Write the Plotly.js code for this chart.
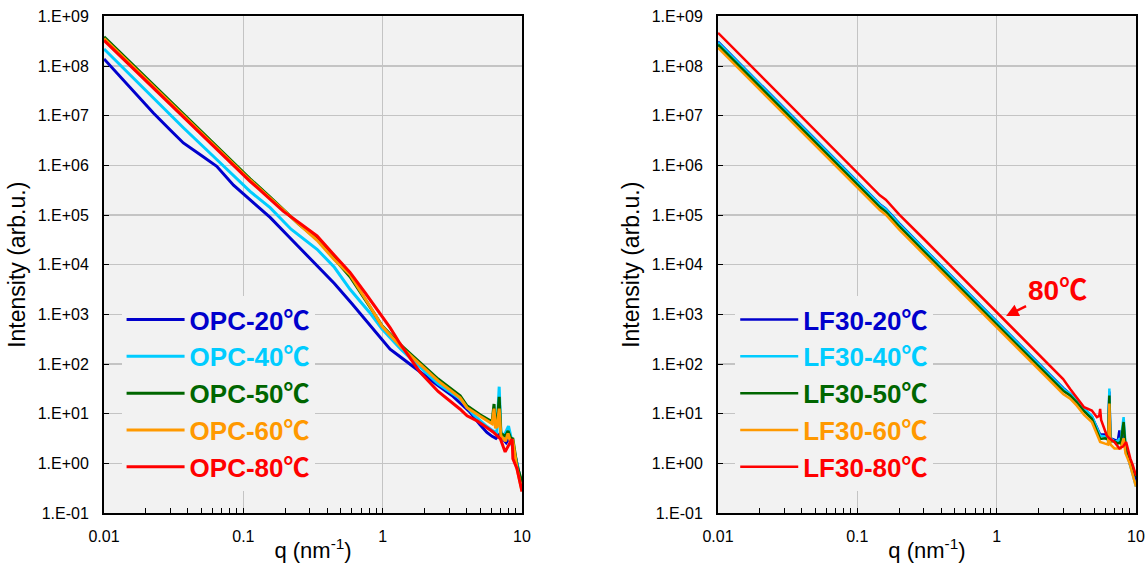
<!DOCTYPE html>
<html>
<head>
<meta charset="utf-8">
<script src="https://cdn.plot.ly/plotly-3.0.1.min.js"></script>
<style>html,body{margin:0;padding:0;background:#fff;}#chart{width:1147px;height:563px;}</style>
</head>
<body>
<div id="chart"></div>
<script>
// ---------- Data (left panel: OPC) ----------
const q_opc20 = [0.01, 0.015, 0.0226, 0.03, 0.0371, 0.05, 0.0644, 0.085, 0.1117, 0.1556, 0.22, 0.338, 0.45, 0.6, 0.8, 0.99, 1.13, 1.35, 1.85, 2.5, 3.2, 4.24, 5.0, 5.6, 6.1, 6.5, 6.86, 7.2, 7.7, 8.2, 8.6, 9.2, 10];
const I_opc20 = [1.4e8, 4.0e7, 1.14e7, 5.1e6, 2.84e6, 1.58e6, 9.6e5, 4.0e5, 2.07e5, 9.0e4, 3.3e4, 9.3e3, 4.2e3, 1.66e3, 630, 320, 200, 137, 69, 37, 22.3, 10.7, 6.0, 4.2, 3.5, 3.2, 3.8, 3.2, 2.6, 3.4, 2.0, 1.0, 0.32];

const q_opc40 = [0.01, 0.015, 0.0226, 0.0371, 0.0644, 0.085, 0.1117, 0.1556, 0.22, 0.338, 0.45, 0.583, 0.8, 0.99, 1.35, 1.85, 2.5, 3.6, 4.5, 5.6, 6.2, 6.6, 6.86, 7.05, 7.4, 8.0, 8.5, 9.2, 10];
const I_opc40 = [2.22e8, 7.2e7, 2.24e7, 5.75e6, 1.32e6, 6.3e5, 3.0e5, 1.41e5, 5.2e4, 2.05e4, 8.9e3, 3.2e3, 1.12e3, 507, 200, 87.5, 39.8, 19.9, 9.5, 5.5, 4.5, 4.2, 35, 4.4, 3.5, 5.6, 2.8, 1.0, 0.32];

const q_opc50 = [0.01, 0.015, 0.0226, 0.0371, 0.0644, 0.085, 0.1117, 0.1556, 0.194, 0.25, 0.338, 0.45, 0.583, 0.8, 0.99, 1.35, 1.85, 2.5, 3.6, 4.03, 5.0, 6.1, 6.3, 6.45, 6.63, 6.86, 7.05, 7.6, 7.94, 8.3, 8.6, 9.2, 10];
const I_opc50 = [3.9e8, 1.29e8, 4.07e7, 1.05e7, 2.4e6, 1.12e6, 5.4e5, 2.3e5, 1.29e5, 6.6e4, 3.3e4, 1.32e4, 5.75e3, 1.5e3, 590, 240, 110, 50, 22.9, 14.4, 9.5, 6.9, 15.7, 5.7, 6.0, 21.9, 4.0, 3.5, 4.5, 3.2, 3.1, 0.9, 0.42];

const q_opc60 = [0.01, 0.015, 0.0226, 0.0371, 0.0644, 0.085, 0.1117, 0.1556, 0.194, 0.25, 0.338, 0.45, 0.583, 0.8, 0.99, 1.35, 1.85, 2.5, 3.6, 4.03, 5.0, 6.1, 6.3, 6.45, 6.63, 6.86, 7.05, 7.6, 7.94, 8.3, 8.6, 9.2, 10];
const I_opc60 = [3.6e8, 1.2e8, 3.9e7, 1.0e7, 2.24e6, 1.07e6, 5.1e5, 2.2e5, 1.26e5, 6.5e4, 3.1e4, 1.26e4, 6.3e3, 1.55e3, 575, 224, 100, 45.7, 20.9, 13.2, 8.9, 6.3, 12.6, 5.2, 5.5, 12.6, 3.6, 2.8, 4.0, 2.6, 2.8, 0.8, 0.28];

const q_opc80 = [0.01, 0.015, 0.0226, 0.0371, 0.0644, 0.085, 0.1117, 0.13, 0.148, 0.193, 0.25, 0.338, 0.45, 0.583, 0.75, 0.912, 1.13, 1.33, 1.85, 2.5, 3.6, 4.03, 4.76, 6.2, 7.0, 7.57, 7.94, 8.3, 8.5, 8.6, 9.2, 10];
const I_opc80 = [3.3e8, 1.1e8, 3.6e7, 9.3e6, 2.1e6, 1.02e6, 4.8e5, 3.3e5, 2.4e5, 1.2e5, 7.1e4, 3.8e4, 1.55e4, 7.0e3, 2.7e3, 1.28e3, 540, 260, 69, 28, 12.3, 9.1, 7.2, 4.3, 3.1, 1.7, 2.3, 2.8, 3.1, 1.24, 0.78, 0.27];

// ---------- Data (right panel: LF30) ----------
const q_lf = [0.01, 0.02, 0.05, 0.1, 0.145, 0.16, 0.2, 0.3, 0.5, 1.0, 1.5, 2.0, 2.5, 3.0, 3.37, 3.76, 4.24, 4.82, 5.53, 6.0, 6.3, 6.44, 6.55, 7.0, 7.4, 7.6, 7.75, 8.15, 8.4, 9.0, 10];
const I_lf20 = [3.1e8, 4.4e7, 3.3e6, 4.7e5, 1.66e5, 1.35e5, 6.8e4, 2.14e4, 5.1e3, 724, 232, 102, 55, 33, 25, 18.6, 12.6, 8.9, 3.8, 3.8, 3.5, 28, 3.2, 3.0, 2.8, 4.6, 2.6, 5.0, 2.2, 1.0, 0.45];
const I_lf40 = [3.0e8, 4.3e7, 3.2e6, 4.6e5, 1.62e5, 1.32e5, 6.6e4, 2.1e4, 5.0e3, 708, 226, 100, 54, 32, 25, 18.6, 12.6, 9.1, 3.6, 3.5, 3.3, 32, 3.2, 2.8, 2.8, 3.2, 2.8, 8.5, 2.5, 1.0, 0.34];
const I_lf50 = [2.7e8, 3.8e7, 2.9e6, 4.1e5, 1.45e5, 1.17e5, 5.9e4, 1.86e4, 4.5e3, 631, 202, 89, 48, 29, 23.2, 17, 11.2, 7.9, 3.1, 3.2, 3.0, 23.2, 2.8, 2.8, 2.5, 2.6, 2.5, 6.8, 2.2, 1.26, 0.54];
const I_lf60 = [2.34e8, 3.3e7, 2.5e6, 3.6e5, 1.26e5, 1.02e5, 5.1e4, 1.62e4, 3.9e3, 550, 176, 78, 42, 25, 20, 14.5, 9.5, 6.8, 2.7, 2.5, 2.4, 16, 2.4, 2.0, 2.0, 2.0, 2.0, 3.2, 1.6, 1.0, 0.34];

const q_lf80 = [0.01, 0.02, 0.05, 0.1, 0.145, 0.16, 0.2, 0.3, 0.5, 1.0, 1.5, 2.0, 2.5, 3.0, 3.37, 3.76, 4.24, 4.82, 5.24, 5.45, 5.53, 5.62, 6.18, 6.44, 7.0, 7.6, 8.1, 8.5, 8.8, 9.1, 9.5, 10];
const I_lf80 = [4.68e8, 6.6e7, 5.0e6, 7.2e5, 2.5e5, 2.05e5, 1.02e5, 3.3e4, 7.8e3, 1.1e3, 350, 155, 83, 50, 31.6, 21.6, 13.5, 11.6, 8.5, 9.0, 12.5, 7.5, 3.6, 3.2, 2.7, 2.0, 2.2, 2.7, 1.8, 1.26, 0.91, 0.56];

// ---------- Labels ----------
const namesLeft  = ['OPC-20℃', 'OPC-40℃', 'OPC-50℃', 'OPC-60℃', 'OPC-80℃'];
const namesRight = ['LF30-20℃', 'LF30-40℃', 'LF30-50℃', 'LF30-60℃', 'LF30-80℃'];
const colors = ['#0000CC', '#00CCFF', '#006600', '#FF9900', '#FF0000'];
const xTickVals = [0.01, 0.1, 1, 10];
const xTickText = ['0.01', '0.1', '1', '10'];
const yTickVals = [1e-1, 1e0, 1e1, 1e2, 1e3, 1e4, 1e5, 1e6, 1e7, 1e8, 1e9];
const yTickText = ['1.E-01', '1.E+00', '1.E+01', '1.E+02', '1.E+03', '1.E+04', '1.E+05', '1.E+06', '1.E+07', '1.E+08', '1.E+09'];
const annotText = '80℃';

const FONT = 'Liberation Sans, Arial, Noto Sans CJK JP, sans-serif';

const leftQ = [q_opc20, q_opc40, q_opc50, q_opc60, q_opc80];
const leftI = [I_opc20, I_opc40, I_opc50, I_opc60, I_opc80];
const rightQ = [q_lf, q_lf, q_lf, q_lf, q_lf80];
const rightI = [I_lf20, I_lf40, I_lf50, I_lf60, I_lf80];

function label(name, color) {
  return '<span style="color:' + color + '"><b>' + name + '</b></span>';
}

const traces = [];
for (let i = 0; i < 5; i++) {
  traces.push({
    x: leftQ[i], y: leftI[i], type: 'scatter', mode: 'lines',
    name: label(namesLeft[i], colors[i]),
    line: {color: colors[i], width: 3},
    xaxis: 'x', yaxis: 'y', legend: 'legend'
  });
}
for (let i = 0; i < 5; i++) {
  traces.push({
    x: rightQ[i], y: rightI[i], type: 'scatter', mode: 'lines',
    name: label(namesRight[i], colors[i]),
    line: {color: colors[i], width: 2.5},
    xaxis: 'x2', yaxis: 'y2', legend: 'legend2'
  });
}

function xAxis(domain, anchor) {
  return {
    type: 'log', range: [-2, 1], domain: domain, anchor: anchor,
    tickmode: 'array', tickvals: xTickVals, ticktext: xTickText,
    ticks: 'inside', ticklen: 5, tickcolor: '#000', tickwidth: 1,
    minor: {ticks: 'inside', ticklen: 5, tickcolor: '#000', tickwidth: 1, dtick: 'D1', showgrid: false},
    showline: true, linecolor: '#000', linewidth: 2, mirror: true,
    showgrid: true, gridcolor: '#c4c4c4', gridwidth: 1.3,
    tickfont: {family: FONT, size: 16, color: '#000'},
    ticklabelstandoff: 8,
    title: {text: 'q (nm<sup>-1</sup>)', font: {family: FONT, size: 22, color: '#000'}, standoff: 2},
    zeroline: false, automargin: false
  };
}
function yAxis(anchor) {
  return {
    type: 'log', range: [-1, 9], domain: [0.0888, 0.9707], anchor: anchor,
    tickmode: 'array', tickvals: yTickVals, ticktext: yTickText,
    ticks: 'inside', ticklen: 5, tickcolor: '#000', tickwidth: 1,
    showline: true, linecolor: '#000', linewidth: 2, mirror: true,
    showgrid: true, gridcolor: '#c4c4c4', gridwidth: 1.3,
    tickfont: {family: FONT, size: 16, color: '#000'},
    ticklabelstandoff: 10,
    title: {text: 'Intensity (arb.u.)', font: {family: FONT, size: 23, color: '#000'}, standoff: 6},
    zeroline: false, automargin: false
  };
}

const legendCommon = {
  bgcolor: '#f2f2f2', borderwidth: 0,
  font: {family: FONT, size: 26, color: '#000'},
  xanchor: 'left', yanchor: 'top', itemwidth: 58,
  tracegroupgap: 0
};

const layout = {
  width: 1147, height: 563,
  margin: {l: 0, r: 0, t: 0, b: 0},
  paper_bgcolor: '#ffffff', plot_bgcolor: '#f2f2f2',
  showlegend: true,
  xaxis: xAxis([0.0907, 0.4551], 'y'),
  yaxis: yAxis('x'),
  xaxis2: xAxis([0.6260, 0.9904], 'y2'),
  yaxis2: yAxis('x2'),
  legend: Object.assign({}, legendCommon, {x: 0.106, y: 0.474}),
  legend2: Object.assign({}, legendCommon, {x: 0.641, y: 0.474}),
  annotations: [{
    xref: 'x2', yref: 'y2', x: Math.log10(1.168), y: 2.97,
    text: '<b>' + annotText + '</b>', showarrow: true,
    ax: 51, ay: -25, arrowcolor: '#FF0000', arrowwidth: 2.5, arrowhead: 2, arrowsize: 1, standoff: 0,
    font: {family: FONT, size: 28, color: '#FF0000'}
  }]
};

Plotly.newPlot('chart', traces, layout, {displayModeBar: false, staticPlot: true});
</script>
</body>
</html>
